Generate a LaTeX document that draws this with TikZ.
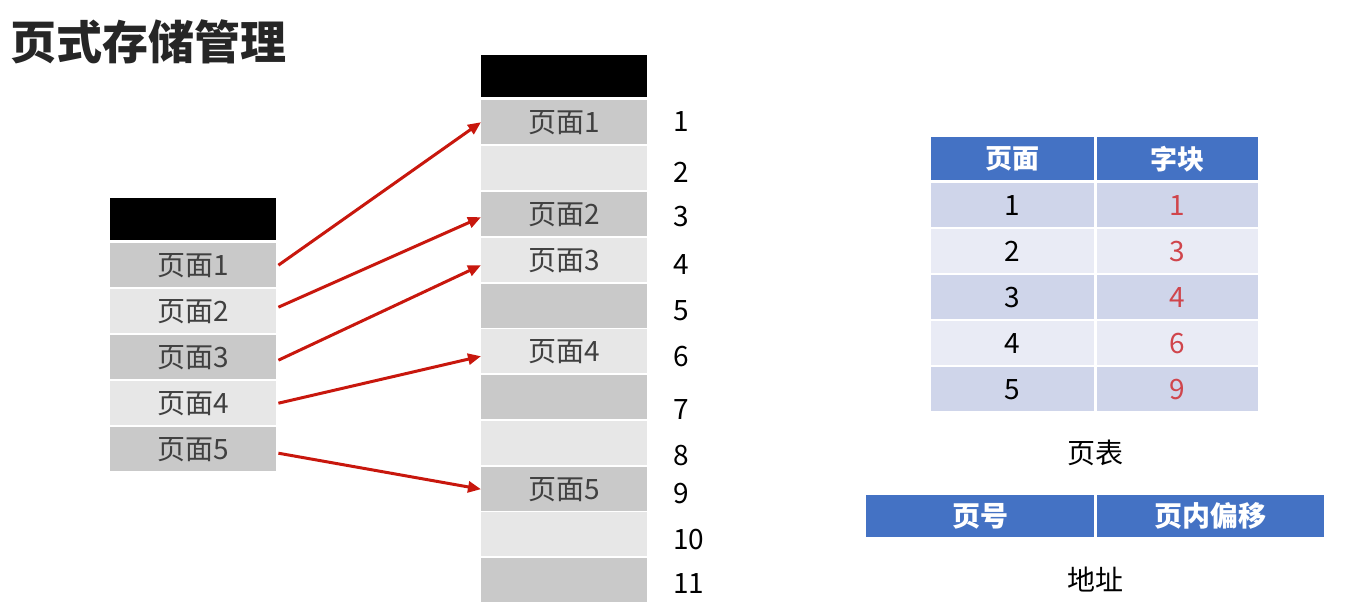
\documentclass[tikz,border=0pt]{standalone}
\usepackage{fontspec}
\setmainfont{Noto Sans CJK SC}
\usetikzlibrary{arrows.meta}
\definecolor{cellA}{HTML}{C9C9C9}
\definecolor{cellB}{HTML}{E7E7E7}
\definecolor{textgray}{HTML}{404040}
\definecolor{arrowred}{HTML}{C8170D}
\definecolor{tblue}{HTML}{4472C4}
\definecolor{rowA}{HTML}{CFD5EA}
\definecolor{rowB}{HTML}{E9EBF5}
\definecolor{tred}{HTML}{D0454C}

\begin{document}
\begin{tikzpicture}[x=1pt, y=-1pt,
	cell/.style={anchor=north west, minimum width=166pt, minimum height=44pt, inner sep=0pt, text=textgray, font=\fontsize{28}{28}\selectfont},
	num/.style={anchor=west, inner sep=0pt, font=\fontsize{28}{28}\selectfont},
	link/.style={draw=arrowred, line width=3pt, -{Triangle[length=13pt, width=11pt]}},
	thead/.style={anchor=north west, fill=tblue, text=white, inner sep=0pt, minimum height=43pt, font=\fontsize{27}{27}\selectfont\bfseries},
	tcell/.style={anchor=north west, inner sep=0pt, minimum height=44pt, font=\fontsize{28}{28}\selectfont}]
	%\draw[help lines] (0,0) grid[step=50] (1368,607);
	\useasboundingbox (0,0) rectangle (1368,607);
	\node[anchor=west, font=\fontsize{46}{46}\selectfont\bfseries, text=black!85] (title) at (7,42) {页式存储管理};
	% logical pages
	\node[cell, fill=black, minimum height=42pt] (lhead) at (110,198) {};
	\foreach \i/\y/\c in {1/243/cellA, 2/289/cellB, 3/335/cellA, 4/381/cellB, 5/427/cellA}
		\node[cell, fill=\c] (l\i) at (110,\y) {页面\i};
	% physical blocks
	\node[cell, fill=black, minimum height=42pt] (rhead) at (481,55) {};
	\foreach \i/\y/\c/\t in {1/100/cellA/页面1, 2/146/cellB/, 3/192/cellA/页面2, 4/238/cellB/页面3, 5/284/cellA/, 6/329/cellB/页面4, 7/375/cellA/, 8/421/cellB/, 9/467/cellA/页面5, 10/512/cellB/, 11/558/cellA/}
		\node[cell, fill=\c] (r\i) at (481,\y) {\t};
	\foreach \i/\y in {1/122, 2/172, 3/217, 4/265, 5/311, 6/357, 7/410, 8/456, 9/494, 10/540, 11/584}
		\node[num] (n\i) at (673,\y) {\i};
	\draw[link] ([xshift=2pt]l1.east) -- (r1.west);
	\draw[link] ([xshift=2pt,yshift=4pt]l2.east) -- ([yshift=-3pt]r3.west);
	\draw[link] ([xshift=2pt,yshift=-3pt]l3.east) -- ([yshift=-5pt]r4.west);
	\draw[link] ([xshift=2pt]l4.east) -- ([yshift=-5pt]r6.west);
	\draw[link] ([xshift=2pt,yshift=-4pt]l5.east) -- (r9.west);
	% page table
	\node[thead, minimum width=163pt] (h1) at (931,137) {页面};
	\node[thead, minimum width=161pt] (h2) at (1097,137) {字块};
	\foreach \i/\y/\v/\c in {1/183/1/rowA, 2/229/3/rowB, 3/275/4/rowA, 4/321/6/rowB, 5/367/9/rowA} {
		\node[tcell, fill=\c, minimum width=163pt] (p\i) at (931,\y) {\i};
		\node[tcell, fill=\c, minimum width=161pt, text=tred] (f\i) at (1097,\y) {\v};
	}
	\node[font=\fontsize{28}{28}\selectfont] (ptab) at (1095,453) {页表};
	% address
	\node[thead, minimum height=42pt, minimum width=228pt, font=\fontsize{28}{28}\selectfont\bfseries] (a1) at (866,495) {页号};
	\node[thead, minimum height=42pt, minimum width=227pt, font=\fontsize{28}{28}\selectfont\bfseries] (a2) at (1097,495) {页内偏移};
	\node[font=\fontsize{28}{28}\selectfont] (addr) at (1095,580) {地址};
\end{tikzpicture}
\end{document}
